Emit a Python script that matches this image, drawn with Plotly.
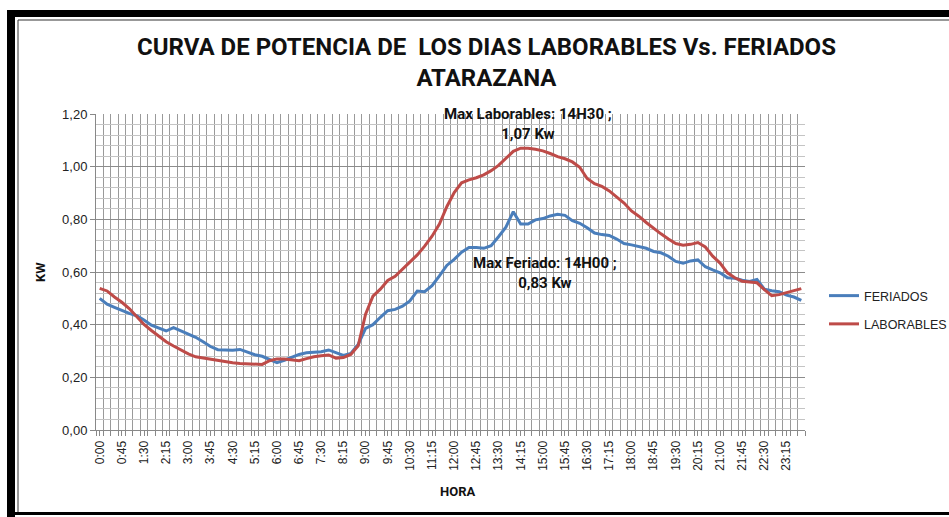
import plotly.graph_objects as go

# 96 quarter-hour readings, 0:00 .. 23:45
horas = [f"{h}:{m:02d}" for h in range(24) for m in (0, 15, 30, 45)]

feriados = [
    0.500, 0.478, 0.466, 0.453, 0.443, 0.434, 0.418, 0.398, 0.388, 0.376,
    0.389, 0.377, 0.364, 0.352, 0.335, 0.317, 0.305, 0.303, 0.303, 0.306,
    0.297, 0.286, 0.280, 0.267, 0.256, 0.265, 0.277, 0.287, 0.293, 0.295,
    0.297, 0.304, 0.292, 0.283, 0.291, 0.325, 0.386, 0.400, 0.428, 0.453,
    0.458, 0.470, 0.490, 0.528, 0.525, 0.548, 0.585, 0.625, 0.648, 0.675,
    0.693, 0.693, 0.690, 0.700, 0.734, 0.770, 0.829, 0.782, 0.782, 0.798,
    0.803, 0.813, 0.819, 0.815, 0.795, 0.785, 0.768, 0.748, 0.742, 0.739,
    0.725, 0.708, 0.703, 0.697, 0.690, 0.678, 0.673, 0.660, 0.640, 0.633,
    0.642, 0.646, 0.620, 0.608, 0.597, 0.578, 0.576, 0.569, 0.564, 0.572,
    0.535, 0.529, 0.525, 0.512, 0.505, 0.492,
]

laborables = [
    0.538, 0.528, 0.505, 0.485, 0.461, 0.432, 0.401, 0.378, 0.356, 0.335,
    0.319, 0.303, 0.289, 0.278, 0.273, 0.268, 0.263, 0.259, 0.255, 0.253,
    0.252, 0.250, 0.249, 0.263, 0.270, 0.270, 0.266, 0.263, 0.271, 0.278,
    0.282, 0.285, 0.273, 0.275, 0.287, 0.320, 0.440, 0.508, 0.535, 0.568,
    0.584, 0.612, 0.640, 0.665, 0.698, 0.736, 0.782, 0.848, 0.902, 0.939,
    0.950, 0.958, 0.969, 0.985, 1.005, 1.030, 1.058, 1.070, 1.070, 1.066,
    1.060, 1.050, 1.038, 1.030, 1.018, 0.998, 0.955, 0.935, 0.925, 0.908,
    0.885, 0.862, 0.832, 0.812, 0.788, 0.765, 0.745, 0.725, 0.708, 0.702,
    0.705, 0.712, 0.695, 0.660, 0.634, 0.597, 0.578, 0.565, 0.561, 0.559,
    0.533, 0.510, 0.514, 0.522, 0.530, 0.537,
]

W, H = 949, 517
L, R, T, B = 96, 144, 114, 87
PW, PH = W - L - R, H - T - B


# helpers: screen pixel of the reference -> paper coords
def px(x):
    return (x - L) / PW


def py(y):
    return (H - B - y) / PH


idx = list(range(len(horas)))
fig = go.Figure()
fig.add_trace(go.Scatter(x=idx, y=feriados, name="FERIADOS", mode="lines",
                         legendgroup="f", line=dict(color="#4A7EBB", width=3)))
fig.add_trace(go.Scatter(x=idx, y=laborables, name="LABORABLES", mode="lines",
                         legendgroup="l", line=dict(color="#BE4B48", width=3)))

fig.update_xaxes(
    range=[-0.5, 95.5], tickvals=idx[::3], ticktext=horas[::3], tickangle=-90,
    showgrid=False, ticks="outside", ticklen=5, tickcolor="#888",
    showline=True, linecolor="#888", zeroline=False,
    tickfont=dict(family="Liberation Sans", size=12, color="#222"),
    minor=dict(tick0=-0.5, dtick=1, showgrid=True, gridcolor="#9a9a9a",
               gridwidth=1, ticks="outside", ticklen=5, tickcolor="#888"),
)
fig.update_yaxes(
    range=[0, 1.2], dtick=0.2, tickformat=".2f", showgrid=True,
    gridcolor="#8c8c8c", gridwidth=1, ticks="outside", ticklen=5,
    tickcolor="#888", showline=True, linecolor="#888", zeroline=False,
    tickfont=dict(family="Liberation Sans", size=13, color="#222"),
    minor=dict(dtick=0.04, showgrid=True, gridcolor="#c4c4c4", gridwidth=1),
)

bold = dict(family="Roboto", color="#111")
notes = [
    ("<b>CURVA DE POTENCIA DE  LOS DIAS LABORABLES Vs. FERIADOS<br>ATARAZANA</b>",
     486, 62, 24, 0),
    ("<b>Max Laborables: 14H30 ;<br>1,07 Kw</b>", 528, 124, 15, 0),
    ("<b>Max Feriado: 14H00 ;<br>0,83 Kw</b>", 545, 273, 15, 0),
    ("<b>KW</b>", 40, 272, 13, -90),
    ("<b>HORA</b>", 457, 491, 13, 0),
]
for text, x, y, size, ang in notes:
    fig.add_annotation(text=text, x=px(x), y=py(y), xref="paper", yref="paper",
                       xanchor="center", yanchor="middle", textangle=ang,
                       showarrow=False, font=dict(size=size, **bold))

# black window frame around the chart
frame = [
    dict(x0=7, x1=15, y0=10, y1=520),
    dict(x0=7, x1=960, y0=10, y1=17),
    dict(x0=15, x1=960, y0=512, y1=515),
]
for f in frame:
    fig.add_shape(type="rect", xref="paper", yref="paper",
                  x0=px(f["x0"]), x1=px(f["x1"]), y0=py(f["y0"]), y1=py(f["y1"]),
                  fillcolor="black", line=dict(width=0))
fig.add_shape(type="line", xref="paper", yref="paper",
              x0=px(18), x1=px(18), y0=py(20), y1=py(512), line=dict(color="#333", width=1))
fig.add_shape(type="line", xref="paper", yref="paper",
              x0=px(18), x1=px(960), y0=py(20), y1=py(20), line=dict(color="#333", width=1))

fig.update_layout(
    width=W, height=H, margin=dict(l=L, r=R, t=T, b=B),
    paper_bgcolor="white", plot_bgcolor="white", separators=",.",
    font=dict(family="Liberation Sans", color="#222"),
    # container refs keep the legend from pushing the margins
    legend=dict(x=824 / W, y=1 - 281 / H, xref="container", yref="container",
                xanchor="left", yanchor="top", itemwidth=30,
                font=dict(size=12.5, color="#222"), tracegroupgap=9,
                bgcolor="rgba(0,0,0,0)"),
)

# drop the default 8px body margin so the figure fills the window exactly
fig.write_html("out.html", config={"displayModeBar": False},
               post_script="document.body.style.margin='0';"
                           "document.body.style.overflow='hidden';")
